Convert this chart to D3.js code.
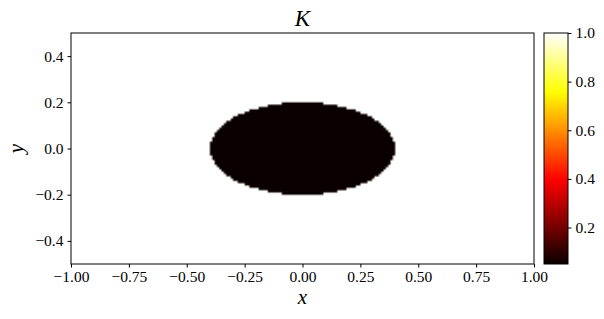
<!DOCTYPE html>
<html>
<head>
<meta charset="utf-8">
<script src="https://cdn.jsdelivr.net/npm/d3@7.9.0/dist/d3.min.js"></script>
<style>
  body { margin: 0; background: #fff; }
  svg { display: block; }
  .domain, .tick line { stroke: #000; stroke-width: 1; }
</style>
</head>
<body>
<svg id="chart" width="604" height="319"></svg>
<script>
// field K on a regular grid: low value inside an ellipse, 1 elsewhere
const xDomain = [-1, 1];
const yDomain = [-0.5, 0.5];
const gridSize = [200, 100];          // cells along x, y
const ellipseCenter = [0, 0];
const ellipseAxes = [0.4, 0.2];       // semi-axes along x, y
const kInside = 0.05;
const kOutside = 1.0;
const colorRange = [0.05, 1.0];

const xTicks = [-1, -0.75, -0.5, -0.25, 0, 0.25, 0.5, 0.75, 1];
const yTicks = [-0.4, -0.2, 0, 0.2, 0.4];
const cbTicks = [0.2, 0.4, 0.6, 0.8, 1.0];

const FONT = '"Liberation Serif", "DejaVu Serif", serif';
const margin = { left: 71, top: 33, right: 534, bottom: 264 };
const cb = { left: 544, right: 568 };

const svg = d3.select('#chart');

let x = d3.scaleLinear().domain(xDomain).range([margin.left, margin.right]);
let y = d3.scaleLinear().domain(yDomain).range([margin.bottom, margin.top]);

// matplotlib "hot"
function hot(t) {
  t = Math.max(0, Math.min(1, t));
  const r = t < 0.365079 ? 0.0416 + (1 - 0.0416) * t / 0.365079 : 1;
  const g = t < 0.365079 ? 0 : (t < 0.746032 ? (t - 0.365079) / (0.746032 - 0.365079) : 1);
  const b = t < 0.746032 ? 0 : (t - 0.746032) / (1 - 0.746032);
  return [Math.round(r * 255), Math.round(g * 255), Math.round(b * 255)];
}
let norm = d3.scaleLinear().domain(colorRange).range([0, 1]).clamp(true);

// build field image
const [nx, ny] = gridSize;
const canvas = document.createElement('canvas');
canvas.width = nx; canvas.height = ny;
const ctx = canvas.getContext('2d');
const img = ctx.createImageData(nx, ny);
const dx = (xDomain[1] - xDomain[0]) / nx;
const dy = (yDomain[1] - yDomain[0]) / ny;
for (let j = 0; j < ny; j++) {
  const yv = yDomain[1] - (j + 0.5) * dy;
  for (let i = 0; i < nx; i++) {
    const xv = xDomain[0] + (i + 0.5) * dx;
    const ex = (xv - ellipseCenter[0]) / ellipseAxes[0];
    const ey = (yv - ellipseCenter[1]) / ellipseAxes[1];
    const k = ex * ex + ey * ey <= 1 ? kInside : kOutside;
    const c = hot(norm(k));
    const p = (j * nx + i) * 4;
    img.data[p] = c[0]; img.data[p + 1] = c[1]; img.data[p + 2] = c[2]; img.data[p + 3] = 255;
  }
}
ctx.putImageData(img, 0, 0);

svg.append('image')
  .attr('href', canvas.toDataURL())
  .attr('x', x(xDomain[0]))
  .attr('y', y(yDomain[1]))
  .attr('width', x(xDomain[1]) - x(xDomain[0]))
  .attr('height', y(yDomain[0]) - y(yDomain[1]))
  .attr('preserveAspectRatio', 'none');

// frame
svg.append('rect')
  .attr('x', margin.left).attr('y', margin.top)
  .attr('width', margin.right - margin.left).attr('height', margin.bottom - margin.top)
  .attr('fill', 'none').attr('stroke', '#000');

function styleAxis(g) {
  g.attr('font-family', FONT).attr('font-size', 15.5);
  g.select('.domain').remove();
}

svg.append('g')
  .attr('transform', `translate(0,${margin.bottom})`)
  .call(d3.axisBottom(x).tickValues(xTicks).tickFormat(d3.format('.2f')).tickSize(3.5).tickPadding(3))
  .call(styleAxis);

svg.append('g')
  .attr('transform', `translate(${margin.left},0)`)
  .call(d3.axisLeft(y).tickValues(yTicks).tickFormat(d3.format('.1f')).tickSize(3.5).tickPadding(4))
  .call(styleAxis);

// titles
svg.append('text')
  .attr('x', (margin.left + margin.right) / 2).attr('y', 26)
  .attr('text-anchor', 'middle').attr('font-family', FONT)
  .attr('font-size', 23).attr('font-style', 'italic')
  .text('K');
svg.append('text')
  .attr('x', (margin.left + margin.right) / 2).attr('y', 304)
  .attr('text-anchor', 'middle').attr('font-family', FONT)
  .attr('font-size', 21).attr('font-style', 'italic')
  .text('x');
svg.append('text')
  .attr('transform', `translate(23,${(margin.top + margin.bottom) / 2}) rotate(-90)`)
  .attr('text-anchor', 'middle').attr('font-family', FONT)
  .attr('font-size', 21).attr('font-style', 'italic')
  .text('y');

// colorbar
let cbScale = d3.scaleLinear().domain(colorRange).range([margin.bottom, margin.top]);
const defs = svg.append('defs');
const grad = defs.append('linearGradient').attr('id', 'hotgrad')
  .attr('x1', 0).attr('y1', 1).attr('x2', 0).attr('y2', 0);
d3.range(0, 1.0001, 0.02).forEach(t => {
  const c = hot(t);
  grad.append('stop').attr('offset', t).attr('stop-color', `rgb(${c[0]},${c[1]},${c[2]})`);
});
svg.append('rect')
  .attr('x', cb.left).attr('y', margin.top)
  .attr('width', cb.right - cb.left).attr('height', margin.bottom - margin.top)
  .attr('fill', 'url(#hotgrad)').attr('stroke', '#000');
svg.append('g')
  .attr('transform', `translate(${cb.right},0)`)
  .call(d3.axisRight(cbScale).tickValues(cbTicks).tickFormat(d3.format('.1f')).tickSize(3.5).tickPadding(4))
  .call(styleAxis);
</script>
</body>
</html>
